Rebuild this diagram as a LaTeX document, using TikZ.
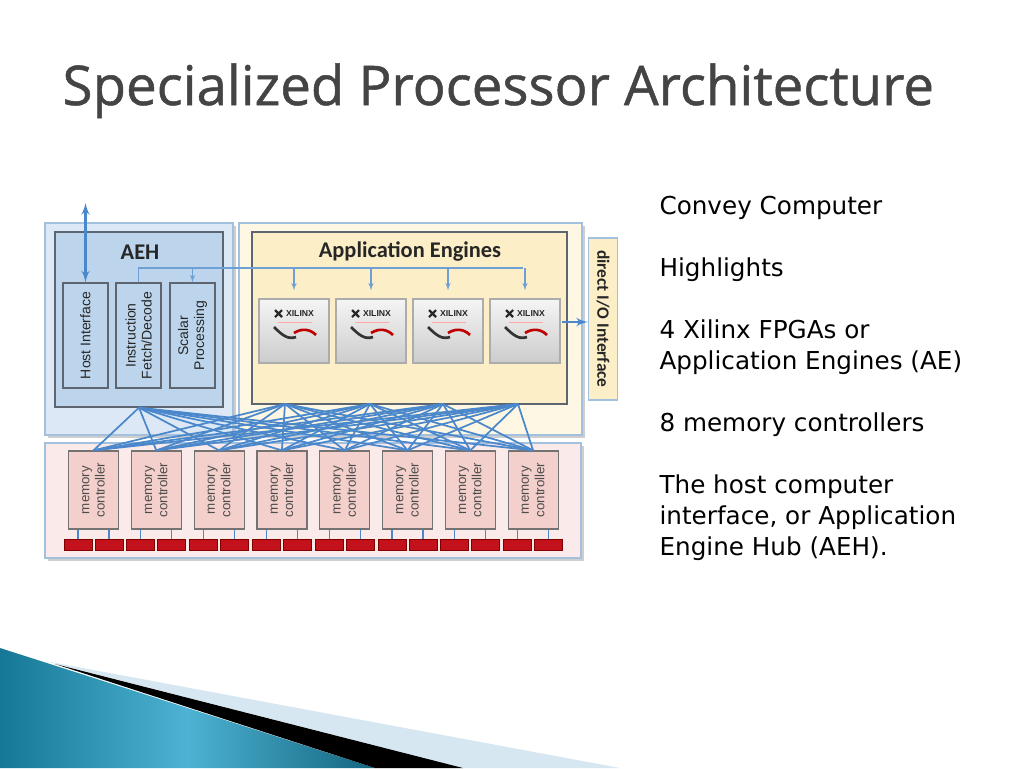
\documentclass[tikz,border=0pt]{standalone}
\usepackage{fontspec}
\setmainfont{Liberation Sans}
\newfontfamily\titlefont[FakeBold=0.9]{Open Sans}
\newfontfamily\notefont{DejaVu Sans}
\newfontfamily\headfont{Carlito}
\usetikzlibrary{arrows}
\usetikzlibrary{shadows}

\definecolor{aehouter}{HTML}{DCE8F5}
\definecolor{aehinner}{HTML}{BCD5EC}
\definecolor{aeouter}{HTML}{FEF7E3}
\definecolor{aeinner}{HTML}{FCEEC6}
\definecolor{mempanel}{HTML}{FBEAEA}
\definecolor{memctl}{HTML}{F3D0CB}
\definecolor{dimmred}{HTML}{C4121C}
\definecolor{wire}{HTML}{4A88CB}
\definecolor{frame}{HTML}{5D6670}
\definecolor{rim}{HTML}{A3C0DE}
\definecolor{titlegray}{HTML}{444444}
\definecolor{swoopdark}{HTML}{167896}
\definecolor{swooplight}{HTML}{4DB2D3}
\definecolor{swoopmist}{HTML}{D7E7F1}

\begin{document}
\begin{tikzpicture}[x=0.75pt,y=-0.75pt,>=latex',thick,
  outerbox/.style={draw=rim,line width=0.9pt,inner sep=0,
    drop shadow={shadow xshift=2pt,shadow yshift=-2pt,fill=gray!75}},
  innerbox/.style={draw=frame,line width=1pt,inner sep=0},
  unit/.style={draw=frame,line width=1pt,fill=aehinner,inner sep=0,
    minimum width=33.75pt,minimum height=78.75pt},
  unitlabel/.style={rotate=90,align=center,text=black!85,
    font=\fontsize{10.5}{12}\selectfont},
  head/.style={font=\headfont\bfseries\fontsize{16.8}{18}\selectfont,text=black!85},
  chip/.style={draw=gray!65,line width=0.8pt,top color=gray!8,bottom color=gray!40,
    inner sep=0,minimum width=52.5pt,minimum height=48pt},
  memctl/.style={draw=black!55,line width=0.9pt,fill=memctl,inner sep=0,
    minimum width=37.5pt,minimum height=58.5pt,
    label={[rotate=90,align=center,text=black!70,font=\fontsize{10}{11.5}\selectfont]center:memory\\controller}},
  dimm/.style={draw=red!50!black,line width=0.6pt,fill=dimmred,inner sep=0,
    minimum width=21pt,minimum height=8.25pt},
  mesh/.style={draw=wire,line width=1.3pt},
  bus/.style={draw=wire!80,line width=0.9pt}]

\useasboundingbox (0,0) rectangle (1024,768);
\fill[white] (0,0) rectangle (1024,768);

\shade[left color=swoopdark,right color=swoopdark!85!black,middle color=swooplight]
  (0,648) -- (375,768) -- (0,768) -- cycle;
\fill[swoopmist] (45,661) -- (620,768) -- (463,768) -- cycle;
\fill[black] (55,664) -- (463,768) -- (375,768) -- cycle;

\node[anchor=base west,inner sep=0,font=\titlefont\fontsize{41}{42}\selectfont,text=titlegray] (title)
  at (62,105) {Specialized Processor Architecture};

\node[outerbox,fill=aehouter,minimum width=141pt,minimum height=159pt] (aehframe) at (139,329) {};
\node[outerbox,fill=aeouter,minimum width=257.25pt,minimum height=159pt] (aeframe) at (410.5,329) {};
\node[outerbox,fill=mempanel,minimum width=402pt,minimum height=86.25pt] (memframe) at (313,500.5) {};

\node[innerbox,fill=aehinner,minimum width=126pt,minimum height=131.25pt] (aeh) at (139,319.5) {};
\node[innerbox,fill=aeinner,minimum width=236.25pt,minimum height=129pt] (ae) at (409.5,318) {};
\node[head] (aehtitle) at (140,252) {AEH};
\node[head] (aetitle) at (410,252) {Application Engines};

\node[unit,label={[unitlabel]center:Host Interface}] (host) at (85.5,335.5) {};
\node[unit,label={[unitlabel]center:Instruction\\Fetch/Decode}] (ifd) at (138.5,335.5) {};
\node[unit,label={[unitlabel]center:Scalar\\Processing}] (scalar) at (192.5,335.5) {};

\node[draw=rim,line width=0.9pt,fill=aeinner,inner sep=0,minimum width=21.75pt,minimum height=121.5pt,
  label={[rotate=-90,font=\headfont\bfseries\fontsize{13}{14}\selectfont,text=black!85]center:direct I/O Interface}]
  (dio) at (603,319) {};

\foreach \n/\x in {1/294,2/371,3/448,4/525} {
  \node[chip] (fpga\n) at (\x,331) {};
  \begin{scope}[shift={(fpga\n.center)}]
    \draw[line width=1.6pt,black!85] (-19,-21) -- (-12,-14) (-19,-14) -- (-12,-21);
    \node[font=\bfseries\fontsize{6.5}{7}\selectfont,text=black!85] at (6,-17.5) {XILINX};
    \draw[red!35,line width=0.6pt] (-16,-9) -- (18,-9);
    \draw[black!80,line width=2pt] (-20,-4) .. controls (-12,4) and (-6,9) .. (2,6);
    \draw[red!75!black,line width=2pt] (0,2) .. controls (8,-3) and (16,-2) .. (22,4);
  \end{scope}
}

\coordinate (hostup) at (85.5,203);
\coordinate (busend) at (523,268);
\coordinate (dioport) at (562,322);
\draw[wire,line width=2pt,<->] (host.north) -- (hostup);
\draw[bus] (ifd.north) |- (busend);
\draw[bus,->] (scalar.north |- busend) -- (scalar.north);
\foreach \n in {1,...,4}
  \draw[bus,->,shorten >=6pt] (fpga\n.north |- busend) -- (fpga\n.north);
\draw[wire,line width=2pt,->] (dioport) -- (dio.west |- dioport);

\foreach \i in {1,...,8} {
  \pgfmathsetmacro\mx{93.5+62.8*(\i-1)}
  \node[memctl] (mc\i) at (\mx,490) {};
  \node[dimm] (dimm\i-1) at (\mx-15.5,544.5) {};
  \node[dimm] (dimm\i-2) at (\mx+15.5,544.5) {};
  \draw[wire,line width=0.8pt] (dimm\i-1.north) -- (dimm\i-1.north |- mc\i.south);
  \draw[wire,line width=0.8pt] (dimm\i-2.north) -- (dimm\i-2.north |- mc\i.south);
}

\foreach \n/\x in {1/285,2/370,3/443,4/518}
  \coordinate (hub\n) at (\x,404);
\foreach \s in {aeh.south,hub1,hub2,hub3,hub4}
  \foreach \i in {1,...,8}
    \draw[mesh] (\s) -- (mc\i.north);

\node[anchor=base west,align=left,inner sep=0,font=\notefont\fontsize{18.5}{23.25}\selectfont] (notes)
  at (659,555) {Convey Computer\\[23.25pt]Highlights\\[23.25pt]4 Xilinx FPGAs or\\Application Engines (AE)\\[23.25pt]8 memory controllers\\[23.25pt]The host computer\\interface, or Application\\Engine Hub (AEH).};
\end{tikzpicture}
\end{document}
